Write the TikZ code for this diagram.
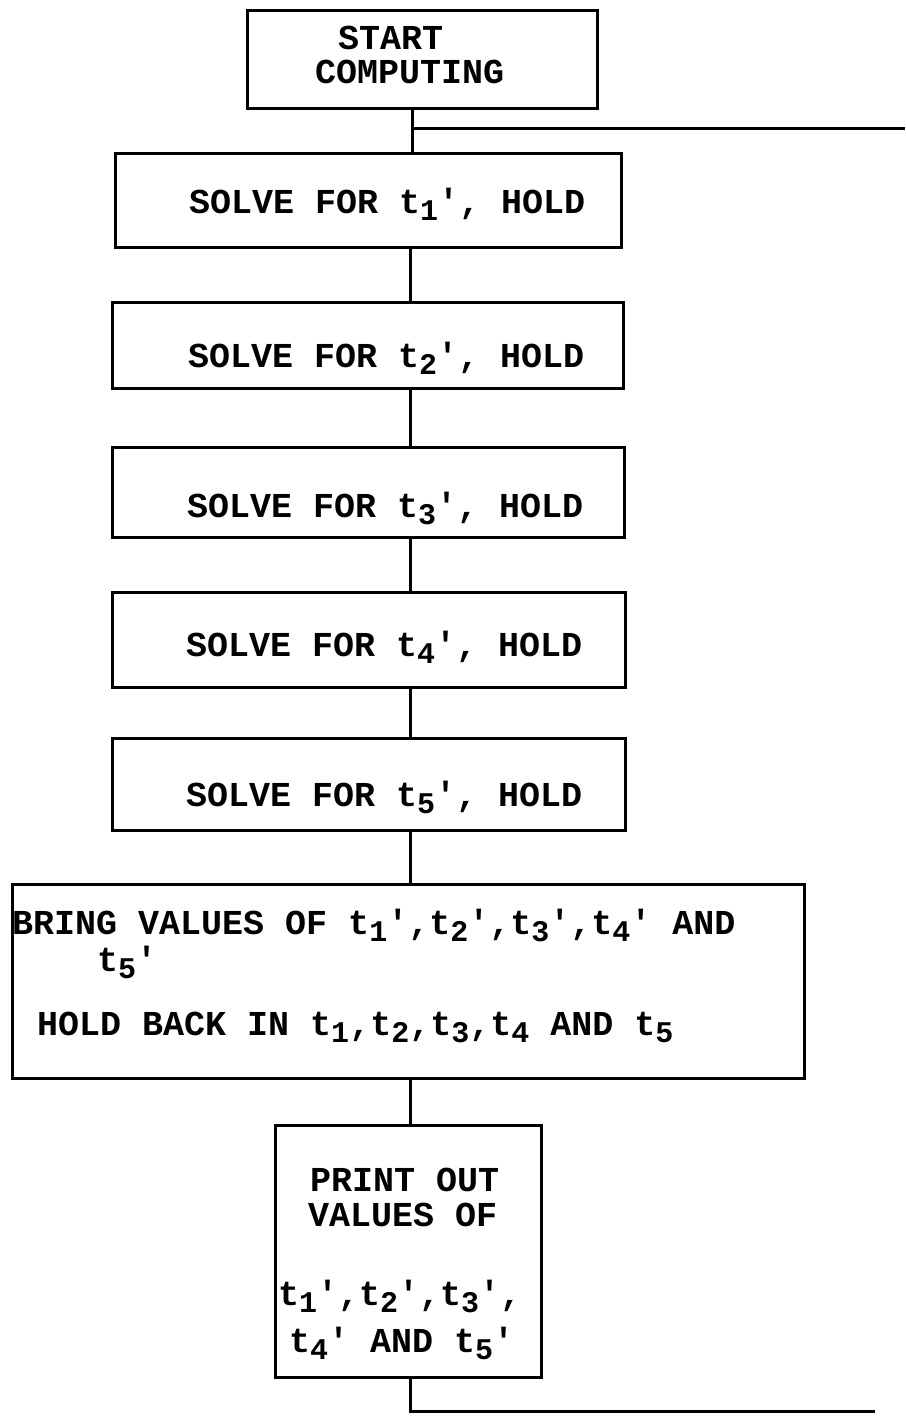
\documentclass[tikz,border=0pt]{standalone}
\usepackage{fontspec}
\newfontfamily\tw{Liberation Mono}[Ligatures=NoCommon]
\newcommand\q{\char39\relax}
\newcommand\ts[1]{t\raisebox{-0.4ex}{\fontsize{30}{30}\selectfont #1}}
\begin{document}
\begin{tikzpicture}[x=1pt,y=-1pt,
  box/.style={draw, line width=3pt, inner sep=0pt, rectangle},
  txt/.style={font=\tw\bfseries\fontsize{35}{35}\selectfont, inner sep=0pt, anchor=base west},
  conn/.style={line width=3pt}]
\useasboundingbox (0,0) rectangle (905,1416);
% boxes
\node[box, minimum width=350, minimum height=98] (start) at (422,59) {};
\node[box, minimum width=506, minimum height=94] (b1) at (368,200) {};
\node[box, minimum width=511, minimum height=86] (b2) at (367.5,345) {};
\node[box, minimum width=512, minimum height=90] (b3) at (368,492) {};
\node[box, minimum width=513, minimum height=95] (b4) at (368.5,639.5) {};
\node[box, minimum width=513, minimum height=92] (b5) at (368.5,784) {};
\node[box, minimum width=792, minimum height=194] (b6) at (408,981) {};
\node[box, minimum width=266, minimum height=252] (b7) at (408,1251) {};
% texts
\node[txt] (t0a) at (338,49) {START};
\node[txt] (t0b) at (315,83) {COMPUTING};
\node[txt] (t1) at (189,213) {SOLVE FOR \ts{1}\q, HOLD};
\node[txt] (t2) at (188,367) {SOLVE FOR \ts{2}\q, HOLD};
\node[txt] (t3) at (187,517) {SOLVE FOR \ts{3}\q, HOLD};
\node[txt] (t4) at (186,656) {SOLVE FOR \ts{4}\q, HOLD};
\node[txt] (t5) at (186,806) {SOLVE FOR \ts{5}\q, HOLD};
\node[txt] (t6a) at (12,934) {BRING VALUES OF \ts{1}\q,\ts{2}\q,\ts{3}\q,\ts{4}\q{} AND};
\node[txt] (t6b) at (97,971) {\ts{5}\q};
\node[txt] (t6c) at (37,1035) {HOLD BACK IN \ts{1},\ts{2},\ts{3},\ts{4} AND \ts{5}};
\node[txt] (t7a) at (310,1191) {PRINT OUT};
\node[txt] (t7b) at (308,1226) {VALUES OF};
\node[txt] (t7c) at (278,1305) {\ts{1}\q,\ts{2}\q,\ts{3}\q,};
\node[txt] (t7d) at (289,1352) {\ts{4}\q{} AND \ts{5}\q};
% connectors
\coordinate (sp) at (412,128);
\coordinate (sr) at (905,128);
\coordinate (lx) at (410,0);
\coordinate (bd) at (410,1411);
\coordinate (br) at (875,1411);
\draw[conn] (start.south -| sp) -- (b1.north -| sp);
\draw[conn] (sp) -- (sr);
\draw[conn] (b1.south -| lx) -- (b2.north -| lx);
\draw[conn] (b2.south -| lx) -- (b3.north -| lx);
\draw[conn] (b3.south -| lx) -- (b4.north -| lx);
\draw[conn] (b4.south -| lx) -- (b5.north -| lx);
\draw[conn] (b5.south -| lx) -- (b6.north -| lx);
\draw[conn] (b6.south -| lx) -- (b7.north -| lx);
\draw[conn] (b7.south -| lx) -- (bd) -- (br);
\end{tikzpicture}
\end{document}
